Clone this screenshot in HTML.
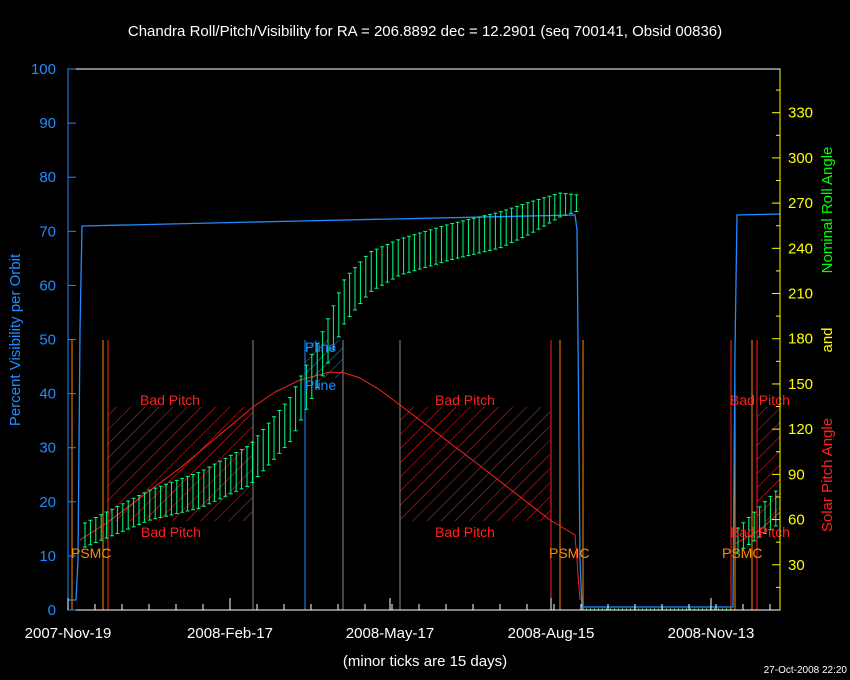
<!DOCTYPE html>
<html><head><meta charset="utf-8"><style>
html,body{margin:0;padding:0;background:#000;}
svg{display:block;font-family:"Liberation Sans",sans-serif;}
</style></head><body>
<svg id="s" width="850" height="680" viewBox="0 0 850 680" xmlns="http://www.w3.org/2000/svg">
<defs>
<pattern id="hr" patternUnits="userSpaceOnUse" width="10" height="10" patternTransform="rotate(45)">
<line x1="0" y1="0" x2="0" y2="10" stroke="#ff2020" stroke-width="1"/></pattern>
<pattern id="hb" patternUnits="userSpaceOnUse" width="8" height="8" patternTransform="rotate(45)">
<line x1="0" y1="0" x2="0" y2="8" stroke="#1e8cff" stroke-width="1"/></pattern>
</defs>
<rect width="850" height="680" fill="#000"/>
<text x="425" y="36" fill="#fff" font-size="15" text-anchor="middle">Chandra Roll/Pitch/Visibility for RA = 206.8892 dec = 12.2901 (seq 700141, Obsid 00836)</text>
<rect x="107" y="407" width="146" height="114" fill="url(#hr)"/>
<rect x="400" y="407" width="150" height="114" fill="url(#hr)"/>
<rect x="757" y="407" width="23" height="114" fill="url(#hr)"/>
<rect x="305" y="340" width="38" height="38" fill="url(#hb)"/>
<g id="vl"></g>
<g id="gr"></g>
<text x="140" y="405" fill="#ff2020" font-size="14">Bad Pitch</text>
<text x="141" y="537" fill="#ff2020" font-size="14">Bad Pitch</text>
<text x="435" y="405" fill="#ff2020" font-size="14">Bad Pitch</text>
<text x="435" y="537" fill="#ff2020" font-size="14">Bad Pitch</text>
<text x="730" y="405" fill="#ff2020" font-size="14">Bad Pitch</text>
<text x="730" y="537" fill="#ff2020" font-size="14">Bad Pitch</text>
<text x="305" y="352" fill="#1e8cff" font-size="14">Pline</text>
<text x="305" y="390" fill="#1e8cff" font-size="14">Pline</text>
<text x="71" y="558" fill="#ff8c00" font-size="14">PSMC</text>
<text x="549" y="558" fill="#ff8c00" font-size="14">PSMC</text>
<text x="722" y="558" fill="#ff8c00" font-size="14">PSMC</text>
<rect x="68" y="69" width="712" height="541" fill="none" stroke="#fff" stroke-width="1"/>
<line x1="68" y1="69" x2="68" y2="610" stroke="#1e8cff"/>
<line x1="780" y1="69" x2="780" y2="610" stroke="#ffff00"/>
<g id="ax"></g>
<text x="425" y="666" fill="#fff" font-size="15" text-anchor="middle">(minor ticks are 15 days)</text>
<text x="847" y="673" fill="#fff" font-size="10" text-anchor="end">27-Oct-2008 22:20</text>
<text transform="translate(20,340) rotate(-90)" fill="#1e8cff" font-size="15" text-anchor="middle">Percent Visibility per Orbit</text>
<text transform="translate(832,210) rotate(-90)" fill="#00ff00" font-size="15" text-anchor="middle">Nominal Roll Angle</text>
<text transform="translate(832,340) rotate(-90)" fill="#ffff00" font-size="15" text-anchor="middle">and</text>
<text transform="translate(832,475) rotate(-90)" fill="#ff2020" font-size="15" text-anchor="middle">Solar Pitch Angle</text>
</svg>
<script>
var NS="http://www.w3.org/2000/svg";
function el(p,t,a){var e=document.createElementNS(NS,t);for(var k in a)e.setAttribute(k,a[k]);p.appendChild(e);return e;}
var ax=document.getElementById('ax'),gr=document.getElementById('gr'),vl=document.getElementById('vl');
for(var v=0;v<=100;v+=10){var y=610-v*5.41;
 el(ax,'line',{x1:68,y1:y,x2:76,y2:y,stroke:'#1e8cff'});
 var t=el(ax,'text',{x:56,y:y+5,fill:'#1e8cff','font-size':15,'text-anchor':'end'});t.textContent=v;}
for(var d=30;d<=330;d+=30){var y=610-d*1.507;
 el(ax,'line',{x1:772,y1:y,x2:780,y2:y,stroke:'#ffff00'});
 var t=el(ax,'text',{x:788,y:y+5,fill:'#ffff00','font-size':15});t.textContent=d;}
for(var d=15;d<350;d+=30){var y=610-d*1.507;el(ax,'line',{x1:776,y1:y,x2:780,y2:y,stroke:'#ffff00'});}
var maj=[68,230,390,551,711],lab=['2007-Nov-19','2008-Feb-17','2008-May-17','2008-Aug-15','2008-Nov-13'];
for(var i=0;i<5;i++){el(ax,'line',{x1:maj[i],y1:610,x2:maj[i],y2:598,stroke:'#fff'});
 var t=el(ax,'text',{x:maj[i],y:638,fill:'#fff','font-size':15,'text-anchor':'middle'});t.textContent=lab[i];}
for(var x=68;x<780;x+=27)el(ax,'line',{x1:x,y1:610,x2:x,y2:604,stroke:'#fff'});
var L=[[72,'#ff8c00',340],[103,'#ff8c00',340],[108,'#ff2020',340],[253,'#888',340],[305,'#1e8cff',340],[343,'#888',340],[400,'#888',340],[551,'#ff2020',340],[560,'#ff8c00',340],[583,'#ff8c00',340],[731,'#ff2020',340],[735,'#ff8c00',340],[752,'#ff8c00',340],[757,'#ff2020',340]];
L.forEach(function(l){el(vl,'line',{x1:l[0],y1:l[2],x2:l[0],y2:610,stroke:l[1]});});
el(gr,'polyline',{points:'68,600 76,600 78,560 80,330 82,226 300,221 575,215 577,230 580,560 582,607 733,607 735,350 737,215 780,214',fill:'none',stroke:'#1e8cff','stroke-width':1.3});
el(gr,'polyline',{points:'80,540 108,522 180,468 253,407 275,392 300,380 330,372 345,373 360,378 380,390 400,405 475,462 550,520 575,535 580,600',fill:'none',stroke:'#ff2020'});
el(gr,'polyline',{points:'733,545 760,530 780,512',fill:'none',stroke:'#ff2020'});
var C=[[85,535,12],[150,505,15],[200,490,18],[250,465,20],[290,420,22],[320,360,22],[345,300,22],[370,272,20],[400,257,18],[450,242,18],[500,230,18],[530,218,16],[560,205,12],[578,203,8]];
function interp(x,A){for(var i=0;i<A.length-1;i++){if(x<=A[i+1][0]){var f=(x-A[i][0])/(A[i+1][0]-A[i][0]);return [A[i][1]+f*(A[i+1][1]-A[i][1]),A[i][2]+f*(A[i+1][2]-A[i][2])];}}return [A[A.length-1][1],A[A.length-1][2]];}
function bars(x0,x1,A){for(var x=x0;x<=x1;x+=5.4){var r=interp(x,A),c=r[0],h=r[1];
 el(gr,'line',{x1:x,y1:c-h,x2:x,y2:c+h,stroke:'#00ff7f'});
 el(gr,'line',{x1:x-2,y1:c-h,x2:x+2,y2:c-h,stroke:'#00ff7f'});
 el(gr,'line',{x1:x-2,y1:c+h,x2:x+2,y2:c+h,stroke:'#00ff7f'});}}
bars(85,578,C);
bars(738,780,[[738,540,12],[780,505,18]]);
el(gr,'line',{x1:582,y1:609,x2:733,y2:609,stroke:'#00ff7f','stroke-dasharray':'1,3'});
</script>
</body></html>
